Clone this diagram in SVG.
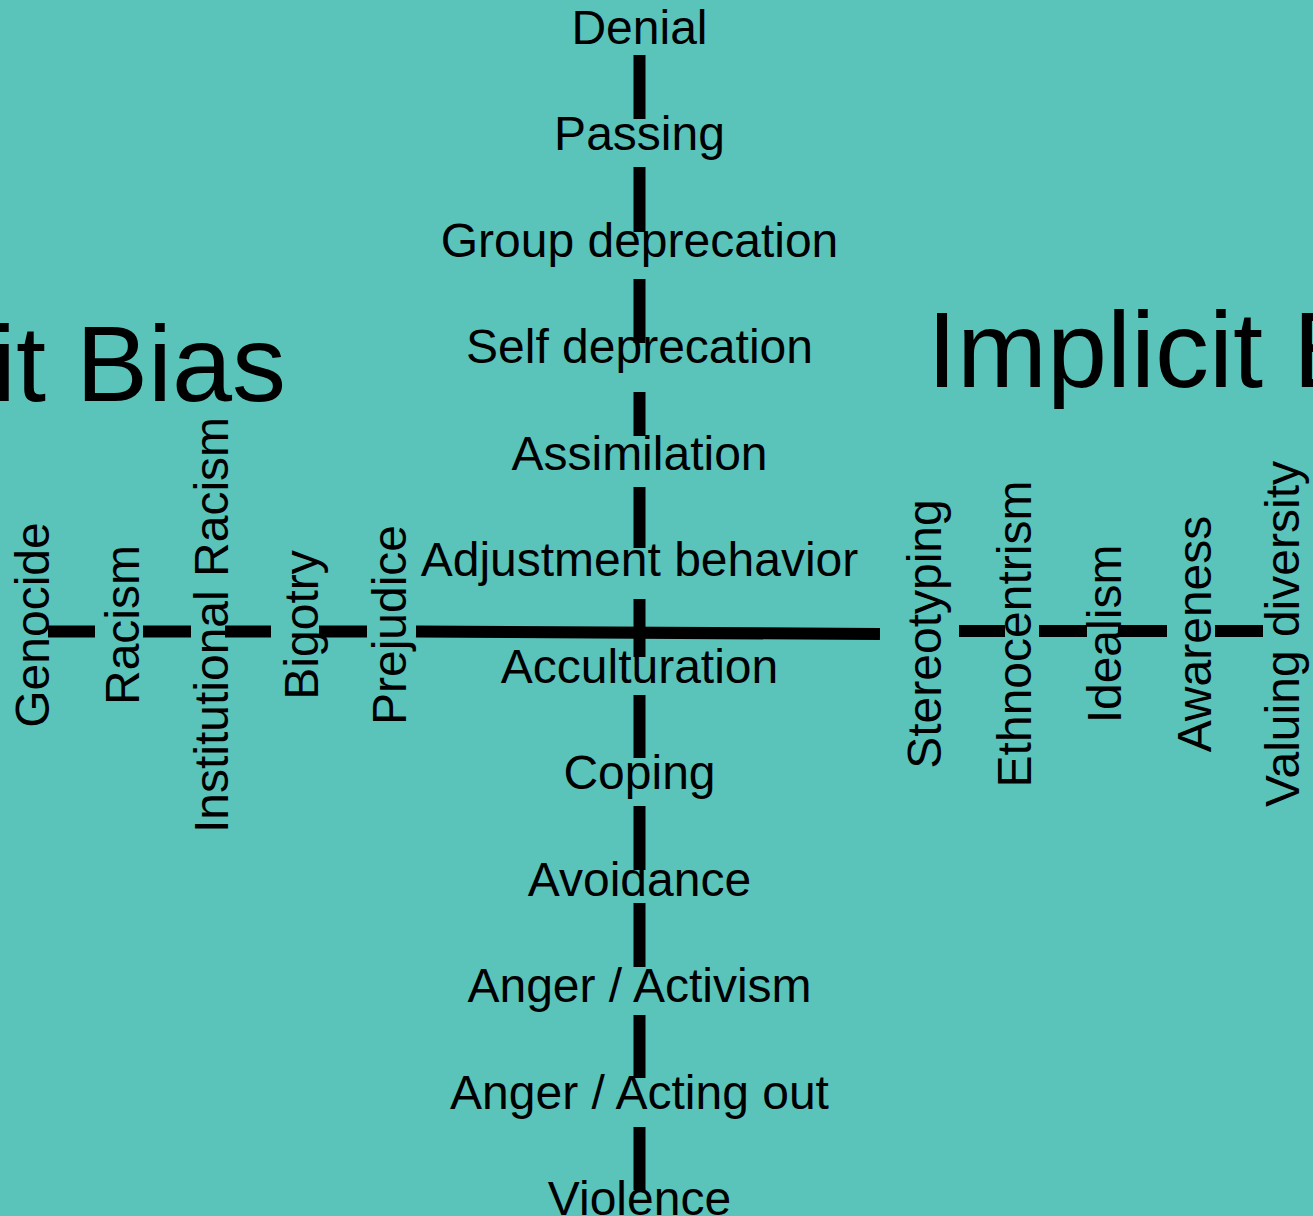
<svg xmlns="http://www.w3.org/2000/svg" width="1313" height="1216" viewBox="0 0 1313 1216">
<style>
.bg{fill:#5AC4BB}
.lbl{font-family:"Liberation Sans",Arial,sans-serif;font-size:48px;fill:#000;text-anchor:middle}
.title{font-family:"Liberation Sans",Arial,sans-serif;font-size:108px;fill:#000}
.c{stroke:#000;stroke-width:12;fill:none;stroke-linecap:butt}
</style>
<rect class="bg" x="0" y="0" width="1313" height="1216"/>
<g id="connectors">
<line class="c" x1="639.5" y1="55" x2="639.5" y2="119"/>
<line class="c" x1="639.5" y1="167" x2="639.5" y2="232"/>
<line class="c" x1="639.5" y1="279" x2="639.5" y2="343"/>
<line class="c" x1="639.5" y1="392" x2="639.5" y2="436"/>
<line class="c" x1="639.5" y1="487" x2="639.5" y2="548"/>
<line class="c" x1="639.5" y1="599" x2="639.5" y2="657"/>
<line class="c" x1="639.5" y1="695" x2="639.5" y2="758"/>
<line class="c" x1="639.5" y1="806" x2="639.5" y2="870"/>
<line class="c" x1="639.5" y1="903" x2="639.5" y2="967"/>
<line class="c" x1="639.5" y1="1015" x2="639.5" y2="1078"/>
<line class="c" x1="639.5" y1="1127" x2="639.5" y2="1190"/>
<line class="c" x1="48" y1="631.5" x2="95" y2="631.5"/>
<line class="c" x1="143" y1="631.5" x2="191" y2="631.5"/>
<line class="c" x1="225" y1="631.5" x2="271" y2="631.5"/>
<line class="c" x1="319" y1="631.5" x2="367" y2="631.5"/>
<line class="c" x1="416" y1="631.5" x2="880" y2="634"/>
<line class="c" x1="959" y1="631" x2="1005" y2="631"/>
<line class="c" x1="1039" y1="631" x2="1087" y2="631"/>
<line class="c" x1="1118" y1="631" x2="1167" y2="631"/>
<line class="c" x1="1215" y1="631" x2="1263" y2="631"/>
</g>
<g id="title-explicit"><text class="title" x="286" y="401" text-anchor="end">Explicit Bias</text></g>
<g id="title-implicit"><text class="title" x="927" y="387">Implicit Bias</text></g>
<g id="n-denial"><text class="lbl" x="639.5" y="43.5">Denial</text></g>
<g id="n-passing"><text class="lbl" x="639.5" y="150">Passing</text></g>
<g id="n-group"><text class="lbl" x="639.5" y="256.5">Group deprecation</text></g>
<g id="n-self"><text class="lbl" x="639.5" y="363">Self deprecation</text></g>
<g id="n-assim"><text class="lbl" x="639.5" y="469.5">Assimilation</text></g>
<g id="n-adjust"><text class="lbl" x="639.5" y="576">Adjustment behavior</text></g>
<g id="n-accult"><text class="lbl" x="639.5" y="682.5">Acculturation</text></g>
<g id="n-coping"><text class="lbl" x="639.5" y="789">Coping</text></g>
<g id="n-avoid"><text class="lbl" x="639.5" y="895.5">Avoidance</text></g>
<g id="n-activism"><text class="lbl" x="639.5" y="1002">Anger / Activism</text></g>
<g id="n-acting"><text class="lbl" x="639.5" y="1108.5">Anger / Acting out</text></g>
<g id="n-violence"><text class="lbl" x="639.5" y="1215">Violence</text></g>
<g id="n-genocide"><text class="lbl" transform="translate(49 625) rotate(-90)">Genocide</text></g>
<g id="n-racism"><text class="lbl" transform="translate(139 625) rotate(-90)">Racism</text></g>
<g id="n-inst"><text class="lbl" transform="translate(228 625) rotate(-90)">Institutional Racism</text></g>
<g id="n-bigotry"><text class="lbl" transform="translate(318 625) rotate(-90)">Bigotry</text></g>
<g id="n-prejudice"><text class="lbl" transform="translate(406 625) rotate(-90)">Prejudice</text></g>
<g id="n-stereo"><text class="lbl" transform="translate(941 634) rotate(-90)">Stereotyping</text></g>
<g id="n-ethno"><text class="lbl" transform="translate(1031 634) rotate(-90)">Ethnocentrism</text></g>
<g id="n-ideal"><text class="lbl" transform="translate(1121 634) rotate(-90)">Idealism</text></g>
<g id="n-aware"><text class="lbl" transform="translate(1211 634) rotate(-90)">Awareness</text></g>
<g id="n-valuing"><text class="lbl" transform="translate(1299 634) rotate(-90)">Valuing diversity</text></g>
</svg>
